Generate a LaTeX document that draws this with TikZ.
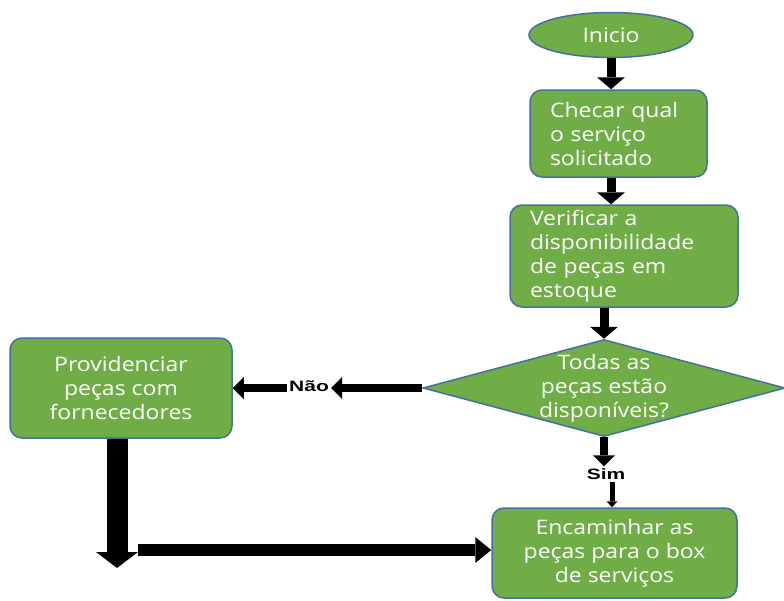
\documentclass[tikz,border=0pt]{standalone}
\usepackage{fontspec}
\setmainfont[FakeStretch=1.15]{Open Sans}
\newfontfamily\lblfont[FakeStretch=1.4]{Liberation Sans}
\usetikzlibrary{shapes.geometric,arrows.meta}
\definecolor{boxgreen}{HTML}{70AD47}
\definecolor{boxedge}{HTML}{41719C}
\tikzset{
  box/.style={draw=boxedge, line width=1.5pt, fill=boxgreen, rounded corners=12pt,
    text=white, font=\fontsize{20}{24}\selectfont, inner sep=0pt},
  lbox/.style={box, align=left, inner xsep=20pt},
  cbox/.style={box, align=center},
  term/.style={draw=boxedge, line width=1.5pt, fill=boxgreen, ellipse, text=white,
    font=\fontsize{20}{24}\selectfont, inner sep=0pt},
  decis/.style={draw=boxedge, line width=1.5pt, fill=boxgreen, diamond, inner sep=0pt},
  dtext/.style={text=white, font=\fontsize{20}{24}\selectfont, align=center},
  lbl/.style={font=\lblfont\bfseries\fontsize{15}{17}\selectfont, text=black, inner sep=2pt},
  arrA/.style={line width=9pt, draw=black, -{Triangle[width=28pt,length=12pt,line width=0pt]}},
  arrB/.style={line width=8pt, draw=black, -{Triangle[width=22pt,length=11pt,line width=0pt]}},
  arrC/.style={line width=5pt, draw=black, -{Triangle[width=11pt,length=6pt,line width=0pt]}},
  arrD/.style={line width=21pt, draw=black, -{Triangle[width=42pt,length=16pt,line width=0pt]}},
  arrE/.style={line width=12pt, draw=black, -{Triangle[width=26pt,length=16pt,line width=0pt]}},
}
\begin{document}
\begin{tikzpicture}[x=1pt,y=-1pt]
\useasboundingbox (0,0) rectangle (784,600);
\node[term, minimum width=164pt, minimum height=45pt] (ini) at (611,35) {Inicio};
\node[lbox, text width=137pt, minimum height=87pt] (chk) at (618.5,133.5)
  {Checar qual\\o serviço\\solicitado};
\node[lbox, text width=188pt, minimum height=102pt] (ver) at (624,256)
  {Verificar a\\disponibilidade\\de peças em\\estoque};
\node[decis, minimum width=362pt, minimum height=97pt] (dec) at (604,388) {};
\node[dtext] (dect) at (dec.center) {Todas as\\peças estão\\disponíveis?};
\node[cbox, minimum width=222pt, minimum height=100pt] (prov) at (121,388)
  {Providenciar\\peças com\\fornecedores};
\node[cbox, minimum width=245pt, minimum height=90pt] (enc) at (614.5,553)
  {Encaminhar as\\peças para o box\\de serviços};
\node[lbl] (nao) at (309,386) {Não};
\node[lbl] (sim) at (606,474) {Sim};
\coordinate (pd) at (117,568);
\coordinate (hs) at (138,550);
% connectors
\draw[arrA] (ini.south) -- (chk.north -| ini.south);
\draw[arrA] (chk.south -| ini.south) -- (ver.north -| ini.south);
\draw[arrA] (ver.south -| dec.north) -- (dec.north);
\draw[arrB] (dec.west) -- (nao.east |- dec.west);
\draw[arrB] (nao.west |- dec.west) -- (prov.east |- dec.west);
\draw[arrB] (dec.south) -- (dec.south |- sim.north);
\draw[arrC] (sim.south -| 612,0) -- (enc.north -| 612,0);
\draw[arrD] (prov.south -| pd) -- (pd);
\draw[arrE] (hs) -- (hs -| enc.west);
\end{tikzpicture}
\end{document}
